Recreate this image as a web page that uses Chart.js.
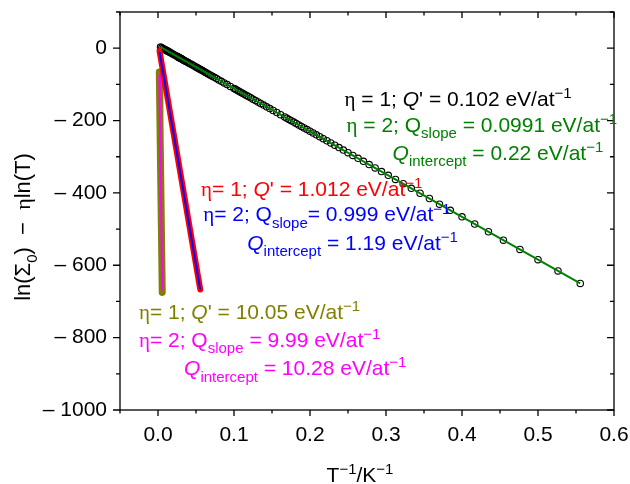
<!DOCTYPE html>
<html>
<head>
<meta charset="utf-8">
<script src="https://cdn.jsdelivr.net/npm/chart.js@4/dist/chart.umd.min.js"></script>
<style>
html,body{margin:0;padding:0;background:#fff;}
#wrap{width:630px;height:484px;position:relative;}
</style>
</head>
<body>
<div id="wrap"><canvas id="c" width="630" height="484"></canvas></div>
<script>
// ---------- data ----------
const xTickValues = [0, 0.1, 0.2, 0.3, 0.4, 0.5, 0.6];
const yTickValues = [0, -200, -400, -600, -800, -1000];

// eta = 1, Q' = 0.102 (open circles)
const blackX = [0.5556,0.5263,0.5,0.4762,0.4545,0.4348,0.4167,0.4,0.3846,0.3704,0.3571,0.3448,0.3333,0.3226,0.3125,0.3030,0.2941,0.2857,0.2778,0.2703,0.2632,0.2564,0.25,0.2439,0.2381,0.2326,0.2273,0.2222,0.2174,0.2128,0.2083,0.2041,0.2,
0.1961,0.1923,0.1887,0.1852,0.1818,0.1786,0.1754,0.1724,0.1695,0.1667,
0.1613,0.1563,0.1515,0.1471,0.1429,0.1389,0.1351,0.1316,0.1282,0.125,0.1220,0.1190,0.1163,0.1136,0.1111,0.1087,0.1064,0.1042,0.1020,0.1,
0.0952,0.0909,0.0870,0.0833,0.08,0.0769,0.0741,0.0714,0.0690,0.0667,0.0645,0.0625,0.0606,0.0588,0.0571,0.0556,0.0541,0.0526,0.0513,0.05,
0.0476,0.0455,0.0435,0.0417,0.04,0.0385,0.0370,0.0357,0.0345,0.0333,0.0323,0.0313,0.0303,0.0294,0.0286,0.0278,0.0270,0.0263,0.0256,0.025,
0.0222,0.02,0.0182,0.0167,0.0154,0.0143,0.0133,0.0125,0.0118,0.0111,0.0105,0.01,0.0083,0.0067,0.005,0.0033];
const blackY = [-650.2,-615.6,-584.5,-556.3,-530.7,-507.3,-485.9,-466.2,-448.0,-431.1,-415.5,-400.9,-387.3,-374.6,-362.7,-351.5,-340.9,-331.0,-321.6,-312.7,-304.3,-296.3,-288.8,-281.5,-274.7,-268.1,-261.9,-255.9,-250.2,-244.7,-239.5,-234.4,-229.6,
-225.0,-220.5,-216.2,-212.1,-208.1,-204.3,-200.5,-197.0,-193.5,-190.2,
-183.8,-177.8,-172.2,-167.0,-162.0,-157.3,-152.9,-148.7,-144.7,-140.9,-137.3,-133.8,-130.6,-127.4,-124.4,-121.6,-118.9,-116.2,-113.7,-111.3,
-105.7,-100.5,-95.9,-91.6,-87.6,-84.0,-80.6,-77.5,-74.6,-71.9,-69.3,-66.9,-64.7,-62.6,-60.6,-58.7,-56.9,-55.3,-53.7,-52.2,
-49.3,-46.8,-44.4,-42.3,-40.3,-38.5,-36.8,-35.3,-33.8,-32.4,-31.2,-30.0,-28.8,-27.8,-26.8,-25.9,-25.0,-24.1,-23.3,-22.6,
-19.3,-16.7,-14.5,-12.7,-11.2,-9.9,-8.8,-7.8,-6.9,-6.1,-5.5,-4.8,-2.9,-0.9,1.1,3.1];
// eta = 2 fit line (green)
const greenX = [0.0033, 0.1, 0.2, 0.3, 0.4, 0.5, 0.5556];
const greenY = [3.1, -111.3, -229.6, -347.9, -466.2, -584.5, -650.2];
// eta = 1, Q' = 1.012 (red) and eta = 2 (blue)
const redX = [0.002, 0.01, 0.02, 0.03, 0.04, 0.05, 0.0556];
const redY = [-8, -106, -229, -352, -475, -598, -667];
const blueX = [0.002, 0.01, 0.02, 0.03, 0.04, 0.05, 0.0556];
const blueY = [-10, -107, -230, -353, -476, -599, -668];
// eta = 1, Q' = 10.05 (olive) and eta = 2 (magenta)
const oliveX = [0.0017, 0.0025, 0.0035, 0.0045, 0.0056];
const oliveY = [-66, -191, -347, -503, -675];
const magentaX = [0.0017, 0.0025, 0.0035, 0.0045, 0.0056];
const magentaY = [-72, -195, -350, -505, -670];

// annotation texts
const noteTexts = [
  [{t:'η',k:'g'},{t:' = 1; '},{t:'Q',k:'i'},{t:"' = 0.102 eV/at"},{t:'−1',k:'sup'}],
  [{t:'η',k:'g'},{t:' = 2; Q'},{t:'slope',k:'sub'},{t:' = 0.0991 eV/at'},{t:'−1',k:'sup'}],
  [{t:'Q',k:'i'},{t:'intercept',k:'sub'},{t:' = 0.22 eV/at'},{t:'−1',k:'sup'}],
  [{t:'η',k:'g'},{t:'= 1; '},{t:'Q',k:'i'},{t:"' = 1.012 eV/at"},{t:'−1',k:'sup'}],
  [{t:'η',k:'g'},{t:'= 2; Q'},{t:'slope',k:'sub'},{t:'= 0.999 eV/at'},{t:'−1',k:'sup'}],
  [{t:'Q',k:'i'},{t:'intercept',k:'sub'},{t:' = 1.19 eV/at'},{t:'−1',k:'sup'}],
  [{t:'η',k:'g'},{t:'= 1; '},{t:'Q',k:'i'},{t:"' = 10.05 eV/at"},{t:'−1',k:'sup'}],
  [{t:'η',k:'g'},{t:'= 2; Q'},{t:'slope',k:'sub'},{t:' = 9.99 eV/at'},{t:'−1',k:'sup'}],
  [{t:'Q',k:'i'},{t:'intercept',k:'sub'},{t:' = 10.28 eV/at'},{t:'−1',k:'sup'}]
];
const yTitle = [{t:'ln(Σ'},{t:'0',k:'sub'},{t:')  −  '},{t:'η',k:'g'},{t:'ln(T)'}];
const xTitle = [{t:'T'},{t:'−1',k:'sup'},{t:'/K'},{t:'−1',k:'sup'}];

// ---------- styling / layout ----------
const FAM = '"Liberation Sans", Arial, sans-serif';
const noteStyle = [
  {x:0.2454, y:-160, c:'#000000'},
  {x:0.248,  y:-232, c:'#008000'},
  {x:0.3087, y:-309, c:'#008000'},
  {x:0.0567, y:-409, c:'#ff0000'},
  {x:0.0594, y:-479, c:'#0000ff'},
  {x:0.1174, y:-558, c:'#0000ff'},
  {x:-0.0251,y:-749, c:'#808000'},
  {x:-0.0251,y:-826, c:'#ff00ff'},
  {x:0.0343, y:-904, c:'#ff00ff'}
];

function segFont(k, base){
  const small = Math.round(base*0.7);
  if (k==='i') return 'italic '+base+'px '+FAM;
  if (k==='g') return base+'px "Liberation Serif", "DejaVu Serif", serif';
  if (k==='sub' || k==='sup') return small+'px '+FAM;
  return base+'px '+FAM;
}
function richWidth(ctx, segs, base){
  let w=0;
  for (const s of segs){ ctx.font=segFont(s.k, base); w+=ctx.measureText(s.t).width; }
  return w;
}
function drawRich(ctx, segs, x, y, base){
  let cx=x;
  ctx.textBaseline='alphabetic';
  ctx.textAlign='left';
  for (const s of segs){
    ctx.font=segFont(s.k, base);
    let dy=0;
    if (s.k==='sub') dy=base*0.3;
    if (s.k==='sup') dy=-base*0.38;
    ctx.fillText(s.t, cx, y+dy);
    cx+=ctx.measureText(s.t).width;
  }
}

const decor = {
  id:'decor',
  afterDatasetsDraw(chart){
    const ctx=chart.ctx, a=chart.chartArea, xs=chart.scales.x, ys=chart.scales.y;
    ctx.save();
    ctx.strokeStyle='#000'; ctx.lineWidth=1.3;
    ctx.strokeRect(a.left, a.top, a.right-a.left, a.bottom-a.top);
    ctx.beginPath();
    for (let i=-1;i<=12;i++){
      const v=i*0.05; const px=xs.getPixelForValue(v);
      const L = (i%2===0)?6:3.5;
      ctx.moveTo(px,a.bottom); ctx.lineTo(px,a.bottom+L);
      ctx.moveTo(px,a.top); ctx.lineTo(px,a.top+L);
    }
    for (let i=0;i<=11;i++){
      const v=-1000+i*100; const py=ys.getPixelForValue(v);
      const L = (i%2===0)?7:4;
      ctx.moveTo(a.left,py); ctx.lineTo(a.left-L,py);
      ctx.moveTo(a.right,py); ctx.lineTo(a.right-L,py);
    }
    ctx.stroke();
    noteTexts.forEach((segs,i)=>{
      const st=noteStyle[i];
      ctx.fillStyle=st.c;
      drawRich(ctx, segs, xs.getPixelForValue(st.x), ys.getPixelForValue(st.y), 21);
    });
    ctx.fillStyle='#000';
    const wx=richWidth(ctx,xTitle,21);
    drawRich(ctx, xTitle, 360 - wx/2, 482, 21);
    const wy=richWidth(ctx,yTitle,22);
    ctx.translate(30, 227);
    ctx.rotate(-Math.PI/2);
    drawRich(ctx, yTitle, -wy/2, 0, 22);
    ctx.restore();
  }
};

function pts(xa, ya){ return xa.map((x,i)=>({x:x, y:ya[i]})); }

new Chart(document.getElementById('c'), {
  type:'scatter',
  data:{ datasets:[
    {data:pts(blueX,blueY), showLine:true, borderColor:'#0000ff', borderWidth:2, pointRadius:0, order:1},
    {data:pts(redX,redY), showLine:true, borderColor:'#ff0000', borderWidth:6, borderCapStyle:'round', pointRadius:0, order:2},
    {data:pts(magentaX,magentaY), showLine:true, borderColor:'#ff00ff', borderWidth:2, pointRadius:0, order:3},
    {data:pts(oliveX,oliveY), showLine:true, borderColor:'#808000', borderWidth:7, borderCapStyle:'round', pointRadius:0, order:4},
    {data:pts(greenX,greenY), showLine:true, borderColor:'#008000', borderWidth:2, pointRadius:0, order:5},
    {data:pts(blackX,blackY), showLine:false, borderColor:'#000000', backgroundColor:'rgba(0,0,0,0)', borderWidth:1.1, pointRadius:3.2, pointStyle:'circle', order:6}
  ]},
  options:{
    responsive:false, animation:false,
    layout:{padding:{top:12, right:16, left:0, bottom:0}},
    plugins:{legend:{display:false}, tooltip:{enabled:false}},
    scales:{
      x:{type:'linear', min:-0.05, max:0.6,
        grid:{display:false, drawTicks:false}, border:{display:false},
        ticks:{font:{size:21, family:FAM}, color:'#000', padding:13, maxRotation:0, autoSkip:false,
          callback:v=>Number(v).toFixed(1)},
        afterBuildTicks:s=>{ s.ticks = xTickValues.map(v=>({value:v})); },
        afterFit:s=>{ s.height = 74; s.paddingLeft = 0; s.paddingRight = 0; }
      },
      y:{type:'linear', min:-1000, max:100,
        grid:{display:false, drawTicks:false}, border:{display:false},
        ticks:{font:{size:21, family:FAM}, color:'#000', padding:13, autoSkip:false,
          callback:v=> v===0 ? '0' : '\u2013 ' + Math.abs(v)},
        afterBuildTicks:s=>{ s.ticks = yTickValues.map(v=>({value:v})); },
        afterFit:s=>{ s.width = 120; s.paddingTop = 0; s.paddingBottom = 0; }
      }
    }
  },
  plugins:[decor]
});
</script>
</body>
</html>
